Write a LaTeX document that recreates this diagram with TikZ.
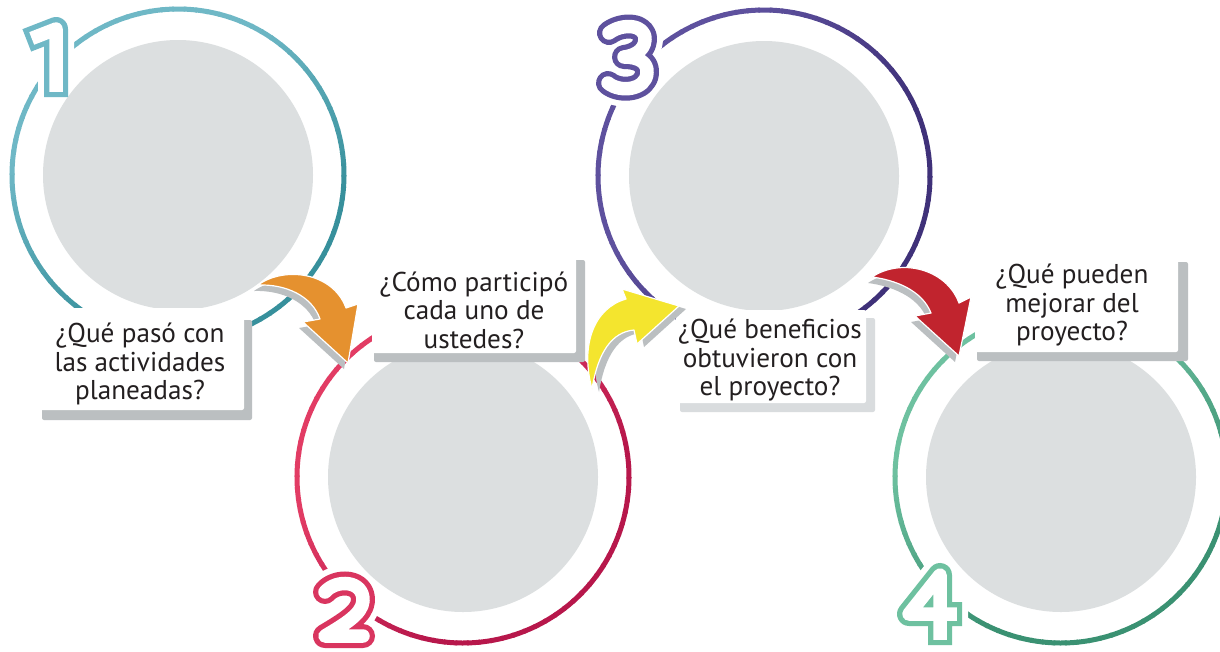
\documentclass[tikz,border=0pt]{standalone}
\usepackage{fontspec}
\setmainfont{PT Sans}
\usetikzlibrary{calc}
\definecolor{rAl}{HTML}{6FB8C6}\definecolor{rAd}{HTML}{37909C}
\definecolor{rBl}{HTML}{E23C64}\definecolor{rBd}{HTML}{B7174B}
\definecolor{rCl}{HTML}{5E519E}\definecolor{rCd}{HTML}{3F3179}
\definecolor{rDl}{HTML}{6EC1A0}\definecolor{rDd}{HTML}{3A9172}
\definecolor{disk}{HTML}{DCDFE0}
\definecolor{shad}{HTML}{BBBFC1}
\definecolor{shadlt}{HTML}{D9DCDE}
\definecolor{txt}{HTML}{231F20}
\definecolor{aorange}{HTML}{E5912F}
\definecolor{ayellow}{HTML}{F4E52E}
\definecolor{ared}{HTML}{C1242E}
\newcommand\myring[4]{%
  \foreach \a in {0,4,...,356}{%
    \pgfmathtruncatemacro\p{max(0,min(100,50+90*cos(\a+2-#4)))}%
    \draw[line width=5pt,color=#3!\p!#2] (#1) ++(\a:166) arc[start angle=\a,end angle=\a+4.6,radius=166];
  }}
\newcommand\digone[1]{\draw[#1,line cap=rect] (38,36) -- (56,29) -- (56,85);}
\newcommand\digtwo[1]{\draw[#1,line cap=round] (325,592) .. controls (336,579) and (364,580) .. (363,601) .. controls (362,614) and (345,624) .. (325,636) -- (363,636);}
\newcommand\digthree[1]{\draw[#1,line cap=round] (609,33) .. controls (622,23) and (646,24) .. (645,40) .. controls (644,52) and (632,56) .. (624,57) .. controls (638,57) and (648,62) .. (647,73) .. controls (646,90) and (620,93) .. (608,83);}
\newcommand\digfour[1]{\draw[#1,line cap=rect] (940,633) -- (940,575) -- (909,614) -- (950,614);}
\newcommand\orangearrow[1]{\path[#1] (258,285) .. controls (284,266) and (333,272) .. (346,308) -- (358,304) -- (348,363) -- (303,322) -- (320,319) .. controls (312,296) and (286,284) .. cycle;}
\newcommand\yellowarrow[1]{\path[#1] (592,389) .. controls (580,345) and (594,308) .. (626,299) -- (622,289) -- (679,306) -- (637,344) -- (634,330) .. controls (612,332) and (598,352) .. cycle;}
\newcommand\redarrow[1]{\path[#1] (872,277) .. controls (900,258) and (946,268) .. (959,303) -- (971,297) -- (959,356) -- (915,316) -- (931,313) .. controls (922,290) and (895,280) .. cycle;}
\tikzset{
  halo/.style={white,line width=36pt,line join=round},
  numout/.style={draw=#1,line width=24pt,line join=round},
  numin/.style={white,line width=13.5pt,line join=round},
  boxw/.style={fill=white,rounded corners=2pt},
  boxs/.style={fill=#1,rounded corners=2pt},
  qtext/.style={align=center,text=txt,inner sep=0pt,font=\fontsize{27.2}{28.6}\selectfont},
  arrowbody/.style={fill=#1,draw=white,line width=1.2pt,line join=round},
}
\begin{document}
\begin{tikzpicture}[x=1pt,y=-1pt]
\useasboundingbox (0,0) rectangle (1220,651);
\clip (0,0) rectangle (1220,651);
\fill[white] (0,0) rectangle (1220,651);
\coordinate (c1) at (178,175);
\coordinate (c2) at (463,477);
\coordinate (c3) at (764,176);
\coordinate (c4) at (1061,477);
% rings
\myring{c1}{rAl}{rAd}{60}
\myring{c2}{rBl}{rBd}{45}
\myring{c3}{rCl}{rCd}{30}
\myring{c4}{rDl}{rDd}{60}
% halos of the numerals
\digone{halo}\digtwo{halo}\digthree{halo}\digfour{halo}
% disks
\foreach \c in {c1,c2,c3,c4}{\fill[disk] (\c) circle[radius=135];}
% boxes
\fill[boxs=shad] (42,320) rectangle (252,420);
\fill[boxw] (40,308) rectangle (244,410);
\fill[boxs=shad] (374,260) rectangle (585,362);
\fill[boxw] (372,250) rectangle (576,353);
\fill[boxs=shadlt] (680,318) rectangle (875,412);
\fill[boxw] (676,310) rectangle (866,403);
\fill[boxs=shad] (977,262) rectangle (1188,361);
\fill[boxw] (975,252) rectangle (1178,352);
% arrows
\orangearrow{fill=shad,shift={(-4,6)}}
\orangearrow{arrowbody=aorange}
\yellowarrow{fill=shad,shift={(7,3)}}
\yellowarrow{arrowbody=ayellow}
\redarrow{fill=shad,shift={(-4,6)}}
\redarrow{arrowbody=ared}
% numerals
\digone{numout=rAl}\digone{numin}
\digtwo{numout=rBl!80!rBd}\digtwo{numin}
\digthree{numout=rCl}\digthree{numin}
\digfour{numout=rDl}\digfour{numin}
% texts
\node[qtext] (t1) at (140,364) {¿Qué pasó con\\las actividades\\planeadas?};
\node[qtext] (t2) at (474,310) {¿Cómo participó\\cada uno de\\ustedes?};
\node[qtext] (t3) at (770,360) {¿Qué beneficios\\obtuvieron con\\el proyecto?};
\node[qtext] (t4) at (1072,305) {¿Qué pueden\\mejorar del\\proyecto?};
\end{tikzpicture}
\end{document}
